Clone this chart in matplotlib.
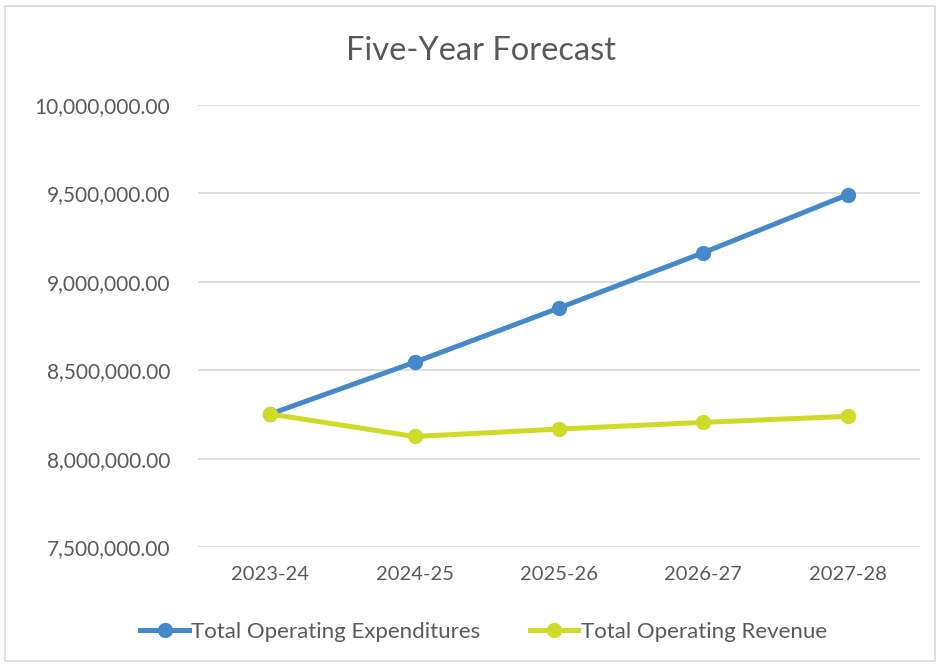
import matplotlib
matplotlib.use("Agg")
import matplotlib.pyplot as plt
from matplotlib.ticker import FuncFormatter
from matplotlib.patches import Rectangle

# --- Five-Year Forecast data --- #
years = ["2023-24", "2024-25", "2025-26", "2026-27", "2027-28"]
expenditures = [8252000, 8545000, 8852000, 9165000, 9493000]
revenue = [8252000, 8125000, 8167000, 8205000, 8239000]

blue = "#4689CB"
lime = "#CEDB29"
txt = "#595959"
grid = "#D9D9D9"

plt.rcParams["font.family"] = ["Lato", "DejaVu Sans"]

fig = plt.figure(figsize=(9.39, 6.66), dpi=100)
ax = fig.add_axes([0.2109, 0.1787, 0.7689, 0.6636])

# chart border like the spreadsheet frame
fig.patches.append(Rectangle((5 / 939, 0.008), 0.99, 0.983, transform=fig.transFigure,
                             fill=False, edgecolor=grid, lw=1.2))

x = range(len(years))
ax.plot(x, expenditures, c=blue, lw=3.6, marker="o", ms=10, label="Total Operating Expenditures", zorder=3)
ax.plot(x, revenue, c=lime, lw=3.6, marker="o", ms=10, label="Total Operating Revenue", zorder=3)

ax.set_xlim(-0.5, len(years) - 0.5)
ax.set_ylim(7500000, 10000000)
ax.set_yticks([7500000, 8000000, 8500000, 9000000, 9500000, 10000000])
ax.yaxis.set_major_formatter(FuncFormatter(lambda v, p: f"{v:,.2f}"))
ax.set_xticks(list(x))
ax.set_xticklabels(years)
ax.grid(axis="y", color=grid, lw=1.2)
ax.set_axisbelow(True)
for s in ax.spines.values():
    s.set_visible(False)
ax.tick_params(length=0, labelsize=15, colors=txt, pad=20)
ax.tick_params(axis="x", labelsize=14.5, pad=14)

fig.text(0.512, 0.924, "Five-Year Forecast", ha="center", va="center", fontsize=23.5, color=txt)

fig.legend(loc="center", bbox_to_anchor=(0.515, 0.051), ncol=2, frameon=False,
           fontsize=16, labelcolor=txt, handlelength=2.2, handletextpad=0.1, columnspacing=2.2)

fig.savefig("out.png", dpi=100)
